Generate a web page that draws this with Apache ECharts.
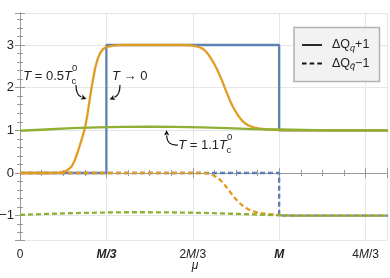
<!DOCTYPE html>
<html><head><meta charset="utf-8">
<script src="https://cdn.jsdelivr.net/npm/echarts@6/dist/echarts.min.js"></script>
<style>html,body{margin:0;padding:0;background:#fff}#c{width:390px;height:278px}</style>
</head><body><div id="c"></div>
<script>
// x in units of M, y value
const xTickLabels = ['0', 'M/3', '2M/3', 'M', '4M/3'];
const yTickLabels = ['\u22121', '0', '1', '2', '3'];
const blueSolid = [[0,0],[1/3,0],[1/3,3],[1,3],[1,1],[1.42,1]];
const blueDashed = [[0,0],[1,0],[1,-1],[1.42,-1]];
const orangeSolid = [[0,0],[0.12,0],[0.15,0.01],[0.16,0.02],[0.17,0.03],[0.18,0.06],[0.19,0.10],[0.20,0.16],[0.21,0.28],[0.22,0.44],[0.23,0.63],[0.24,0.83],[0.25,1.04],[0.26,1.36],[0.27,1.76],[0.28,2.14],[0.29,2.46],[0.30,2.68],[0.31,2.82],[0.32,2.90],[0.33,2.94],[0.34,2.96],[0.36,2.985],[0.38,2.995],[0.42,3.0],[0.62,3.0],[0.66,2.99],[0.68,2.97],[0.70,2.93],[0.71,2.89],[0.72,2.83],[0.73,2.75],[0.74,2.65],[0.75,2.55],[0.76,2.43],[0.77,2.30],[0.78,2.16],[0.79,2.00],[0.80,1.85],[0.81,1.70],[0.82,1.57],[0.83,1.46],[0.84,1.36],[0.85,1.28],[0.86,1.21],[0.87,1.16],[0.88,1.12],[0.90,1.07],[0.92,1.045],[0.95,1.02],[1.0,1.005],[1.05,1.0],[1.42,1.0]];
const orangeDashed = [[0,0],[0.70,0],[0.72,-0.01],[0.74,-0.04],[0.76,-0.10],[0.77,-0.15],[0.78,-0.21],[0.79,-0.28],[0.80,-0.36],[0.81,-0.44],[0.82,-0.52],[0.83,-0.59],[0.84,-0.66],[0.85,-0.72],[0.86,-0.77],[0.87,-0.81],[0.88,-0.85],[0.90,-0.90],[0.92,-0.93],[0.95,-0.96],[1.0,-0.98],[1.03,-0.995],[1.06,-1.0],[1.42,-1.0]];
const greenSolid = [[0,0.99],[0.1,1.02],[0.2,1.05],[0.3,1.07],[0.4,1.08],[0.5,1.085],[0.6,1.08],[0.7,1.07],[0.8,1.05],[0.9,1.03],[1.0,1.02],[1.1,1.01],[1.2,1.0],[1.42,1.0]];
const greenDashed = [[0,-0.98],[0.1,-0.96],[0.2,-0.94],[0.3,-0.93],[0.4,-0.92],[0.5,-0.92],[0.6,-0.925],[0.7,-0.935],[0.8,-0.95],[0.9,-0.97],[1.0,-0.99],[1.1,-1.0],[1.42,-1.0]];

const BLUE = '#5e81b5', ORANGE = '#e19c24', GREEN = '#8fb032';
const FONT = '"Liberation Sans", Arial, sans-serif';
const FRAME = '#9a9a9a';

const chart = echarts.init(document.getElementById('c'), null, {renderer: 'canvas'});

function xFmt(v) {
  const k = Math.round(v * 3);
  if (Math.abs(v * 3 - k) > 1e-6 || k < 0 || k >= xTickLabels.length) return '';
  const s = xTickLabels[k];
  if (s === 'M/3' || s === 'M') return '{b|' + s + '}';
  if (s.indexOf('M') >= 0) {
    const p = s.split('M');
    return '{n|' + p[0] + '}{i|M}{n|' + p[1] + '}';
  }
  return '{n|' + s + '}';
}
function yFmt(v) {
  const k = Math.round(v);
  if (Math.abs(v - k) > 1e-6) return '';
  const idx = k + 1;
  return (idx >= 0 && idx < yTickLabels.length) ? yTickLabels[idx] : '';
}

const XMIN = 0, XMAX = 1.416, YMIN = -1.57, YMAX = 3.75;
const common = {
  axisLine: {show: true, lineStyle: {color: FRAME, width: 1}},
  axisTick: {show: true, inside: true, length: 5, lineStyle: {color: FRAME}},
};
function ls(color, dashed) {
  return {color: color, width: 2.3, type: dashed ? [5, 3] : 'solid'};
}
function mk(data, color, dashed) {
  return {type: 'line', data: data, showSymbol: false, symbol: 'none', smooth: false,
    lineStyle: ls(color, dashed), itemStyle: {color: color}, animation: false, xAxisIndex: 0, yAxisIndex: 0};
}
const xMinor = {show: true, splitNumber: 4, length: 3, lineStyle: {color: FRAME}};
const yMinor = {show: true, splitNumber: 5, length: 3, lineStyle: {color: FRAME}};

chart.setOption({
  animation: false,
  grid: {left: 20, right: 3, top: 13, bottom: 38, containLabel: false, outerBoundsMode: 'none'},
  xAxis: [
    Object.assign({type: 'value', min: XMIN, max: XMAX, interval: 1/3, position: 'bottom',
      axisLabel: {show: true, margin: 9, formatter: xFmt, showMaxLabel: false,
        rich: {
          b: {fontFamily: FONT, fontSize: 12, fontWeight: 'bold', fontStyle: 'italic', color: '#222'},
          i: {fontFamily: FONT, fontSize: 12, fontStyle: 'italic', color: '#222'},
          n: {fontFamily: FONT, fontSize: 12, color: '#222'}
        }},
      splitLine: {show: true, lineStyle: {color: '#e6e6e6', width: 1}}, minorTick: xMinor}, common),
    Object.assign({type: 'value', min: XMIN, max: XMAX, interval: 1/3, position: 'top',
      axisLabel: {show: false}, splitLine: {show: false}, minorTick: xMinor}, common)
  ],
  yAxis: [
    Object.assign({type: 'value', min: YMIN, max: YMAX, splitNumber: 5, position: 'left',
      axisLabel: {show: true, margin: 6, formatter: yFmt, showMinLabel: false, showMaxLabel: false,
        fontFamily: FONT, fontSize: 13, color: '#222'},
      splitLine: {show: true, lineStyle: {color: '#e6e6e6', width: 1}}, minorTick: yMinor}, common),
    Object.assign({type: 'value', min: YMIN, max: YMAX, splitNumber: 5, position: 'right',
      axisLabel: {show: false}, splitLine: {show: false}, minorTick: yMinor}, common)
  ],
  series: [
    mk(blueSolid, BLUE, false),
    mk(blueDashed, BLUE, true),
    mk(orangeSolid, ORANGE, false),
    mk(orangeDashed, ORANGE, true),
    mk(greenSolid, GREEN, false),
    mk(greenDashed, GREEN, true)
  ]
});

// annotations & legend
function arrow(p0, c, p1) {
  const dx = p1[0] - c[0], dy = p1[1] - c[1];
  const L = Math.hypot(dx, dy), ux = dx / L, uy = dy / L;
  const hl = 5.5, hw = 2.6;
  const bx = p1[0] - ux * hl, by = p1[1] - uy * hl;
  return [
    {type: 'bezierCurve', shape: {x1: p0[0], y1: p0[1], cpx1: c[0], cpy1: c[1], x2: bx, y2: by},
      style: {stroke: '#111', lineWidth: 1.2, fill: null}, z: 100},
    {type: 'polygon', shape: {points: [p1, [bx - uy * hw, by + ux * hw], [bx + ux * 1.2, by + uy * 1.2], [bx + uy * hw, by - ux * hw]]},
      style: {fill: '#111'}, z: 100}
  ];
}
const tStyle = {fontFamily: FONT, fontSize: 13, fill: '#222'};
function tlabel(x, y, main, align) {
  return {type: 'text', x: x, y: y, z: 100, style: Object.assign({}, tStyle, {
    text: main, align: align, verticalAlign: 'middle',
    rich: {i: {fontFamily: FONT, fontSize: 13, fontStyle: 'italic', fill: '#222'},
           n: {fontFamily: FONT, fontSize: 13, fill: '#222'}}})};
}
function small(x, y, s) {
  return {type: 'text', x: x, y: y, z: 100, style: {text: s, fontFamily: FONT, fontSize: 9.5, fill: '#222', align: 'left', verticalAlign: 'middle'}};
}
const g = [];
g.push(tlabel(72, 76, '{i|T}{n| = 0.5}{i|T}', 'right'));
g.push(small(72, 68, '0'), small(71.5, 81.5, 'c'));
g.push(tlabel(112, 76, '{i|T}{n| \u2192 0}', 'left'));
g.push(tlabel(227, 145, '{i|T}{n| = 1.1}{i|T}', 'right'));
g.push(small(227, 137, '0'), small(226.5, 150.5, 'c'));
g.push.apply(g, arrow([76, 85], [76, 95], [86.5, 99]));
g.push.apply(g, arrow([120, 85], [120, 95], [109.5, 99.5]));
g.push.apply(g, arrow([178, 145], [167, 146], [166.5, 130]));
// legend
g.push({type: 'rect', shape: {x: 294, y: 27.5, width: 85.5, height: 54}, style: {fill: '#f2f2f2', stroke: '#b3b3b3', lineWidth: 1.5}, z: 100});
g.push({type: 'line', shape: {x1: 302, y1: 45, x2: 322, y2: 45}, style: {stroke: '#111', lineWidth: 1.8}, z: 101});
g.push({type: 'line', shape: {x1: 302, y1: 63.5, x2: 322, y2: 63.5}, style: {stroke: '#111', lineWidth: 1.8, lineDash: [4.5, 3.2]}, z: 101});
function legText(y, sub, tail) {
  return {type: 'text', x: 332, y: y, z: 101, style: {
    text: '{n|\u0394Q}{s|' + sub + '}{n|' + tail + '}', verticalAlign: 'middle', align: 'left',
    rich: {n: {fontFamily: FONT, fontSize: 12.5, fill: '#222', lineHeight: 15},
           s: {fontFamily: FONT, fontSize: 9, fontStyle: 'italic', fill: '#222', lineHeight: 8, verticalAlign: 'bottom'}}}};
}
g.push(legText(45, 'q', '+1'));
g.push(legText(63.5, 'q\u0304', '\u22121'));
// axis name
g.push({type: 'text', x: 195, y: 266, z: 100, style: {text: '\u03bc', fontFamily: FONT, fontSize: 12, fontStyle: 'italic', fill: '#222', align: 'center', verticalAlign: 'middle'}});
chart.setOption({graphic: g});
</script></body></html>
